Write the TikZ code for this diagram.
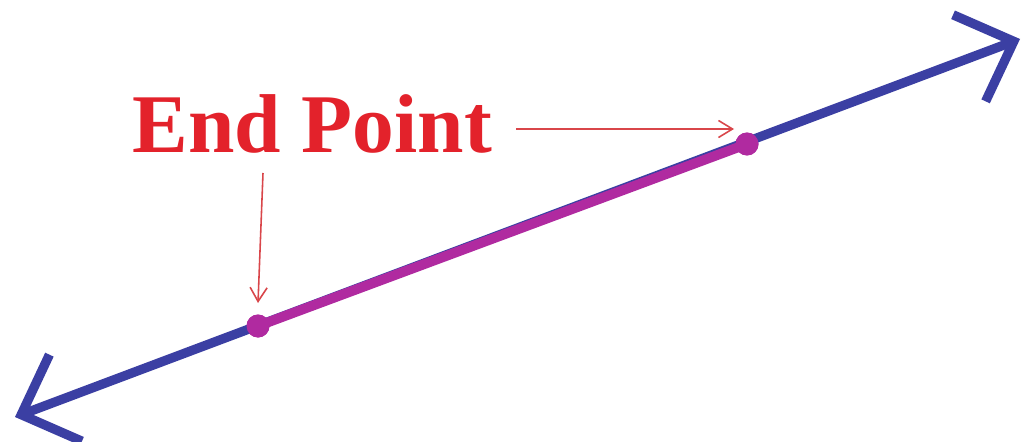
\documentclass[tikz,border=0pt]{standalone}
\usepackage{fontspec}
\setmainfont{Liberation Serif}
\usepackage{tikz}
\usetikzlibrary{arrows.meta}
\definecolor{lnBlue}{HTML}{3B3FA3}
\definecolor{segMagenta}{HTML}{B02AA0}
\definecolor{ptRed}{HTML}{E3222B}
\definecolor{ptrRed}{HTML}{D9464A}
\tikzset{
  % Whole line, open heads at both ends
  fullline/.style={line width=5.3pt,color=lnBlue,
    {Straight Barb[length=0.95cm,width=1.85cm]}-{Straight Barb[length=0.95cm,width=1.85cm]}},
  % Segment between the two end points
  segline/.style={line width=5.6pt,color=segMagenta},
  % End point dot
  enddot/.style={circle,fill=segMagenta,minimum size=0.46cm,inner sep=0pt},
  % Big red label
  bigLbl/.style={font=\fontsize{47.5}{50}\selectfont\bfseries,text=ptRed,inner sep=0pt},
  % Thin red pointer
  ptr/.style={-{Straight Barb[length=0.28cm,width=0.34cm]},line width=0.9pt,color=ptrRed},
}
\begin{document}
\begin{tikzpicture}[x=0.02cm,y=-0.02cm]
  \useasboundingbox[fill=white] (0,0) rectangle (1026,442);

  \coordinate (tipL) at (15,417);
  \coordinate (tipR) at (1020,39);
  \node[enddot] (pA) at (258,326) {};
  \node[enddot] (pB) at (747,144) {};

  \node[bigLbl,anchor=base west] (lbl) at (132,153) {End Point};
  \coordinate (hStart) at (516,129);
  \coordinate (hEnd) at (734,129);
  \coordinate (vStart) at (263,173);
  \coordinate (vEnd) at (258,303);

  \draw[fullline] (tipL) -- (tipR);
  \draw[segline] (pA.center) -- (pB.center);
  \node[enddot] at (pA) {};
  \node[enddot] at (pB) {};

  \draw[ptr] (hStart) -- (hEnd);
  \draw[ptr] (vStart) -- (vEnd);
\end{tikzpicture}
\end{document}
